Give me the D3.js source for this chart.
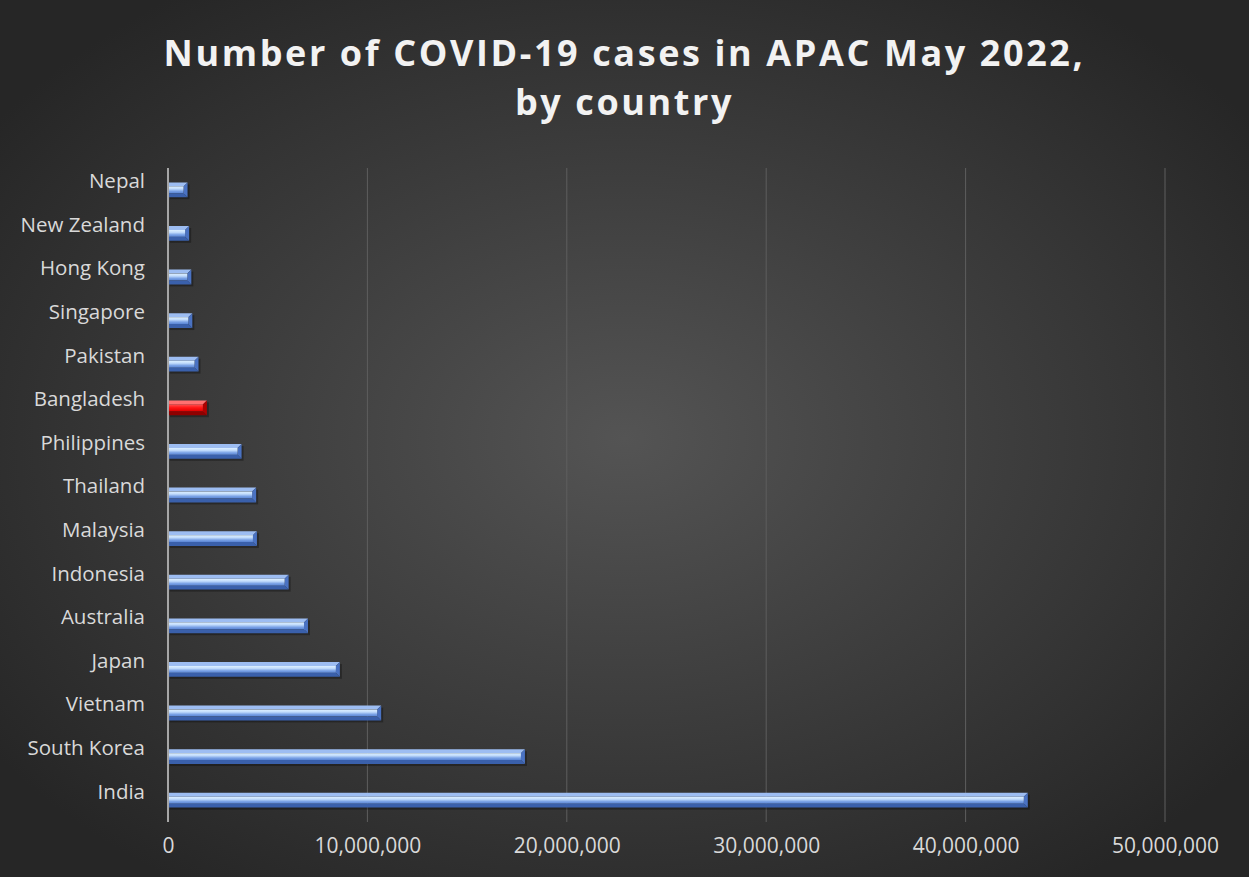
<!DOCTYPE html>
<html>
<head>
<meta charset="utf-8">
<script src="https://cdn.jsdelivr.net/npm/d3@7"></script>
<style>
  html, body { margin: 0; padding: 0; background: #2a2a2a; }
  svg { display: block; }
</style>
</head>
<body>
<svg id="chart"></svg>
<script>
const countries = ['Nepal', 'New Zealand', 'Hong Kong', 'Singapore', 'Pakistan', 'Bangladesh',
    'Philippines', 'Thailand', 'Malaysia', 'Indonesia', 'Australia', 'Japan', 'Vietnam',
    'South Korea', 'India'];
const cases = [980000, 1060000, 1170000, 1220000, 1530000, 1950000,
    3690000, 4420000, 4460000, 6050000, 7020000, 8620000, 10690000,
    17900000, 43120000];
const highlight = ['Bangladesh'];
const xTicks = [0, 10000000, 20000000, 30000000, 40000000, 50000000];
const titleLines = ['Number of COVID-19 cases in APAC May 2022,', 'by country'];

const width = 1249;
const height = 877;
const margin = { top: 168, right: 84, bottom: 55, left: 168 };

const svg = d3.select('#chart').attr('width', width).attr('height', height);
const defs = svg.append('defs');

// background
const bg = defs.append('radialGradient').attr('id', 'bg')
    .attr('cx', '50%').attr('cy', '50%').attr('r', '62%');
bg.append('stop').attr('offset', '0%').attr('stop-color', '#545454');
bg.append('stop').attr('offset', '100%').attr('stop-color', '#262626');
svg.append('rect').attr('width', width).attr('height', height).attr('fill', 'url(#bg)');

// bar face gradients
function faceGradient(id, stops) {
    const g = defs.append('linearGradient').attr('id', id)
        .attr('x1', 0).attr('y1', 0).attr('x2', 0).attr('y2', 1);
    stops.forEach(([o, c]) => g.append('stop').attr('offset', o).attr('stop-color', c));
}
faceGradient('blueFace', [['0%', '#dcefff'], ['35%', '#c2dcfc'], ['70%', '#7aa2e6'], ['100%', '#5a85d4']]);
faceGradient('redFace', [['0%', '#ff5050'], ['50%', '#ff1414'], ['100%', '#e00000']]);

const palette = {
    blue: { top: '#9dbdf2', face: 'url(#blueFace)', right: '#4a72c2', bottom: '#3a60ab' },
    red: { top: '#ff7070', face: 'url(#redFace)', right: '#b00000', bottom: '#8f0000' }
};

const x = d3.scaleLinear()
    .domain([0, 50000000])
    .range([margin.left, width - margin.right]);

const y = d3.scaleBand()
    .domain(countries)
    .range([margin.top, height - margin.bottom])
    .paddingInner(0.66)
    .paddingOuter(0.33);

// title
svg.append('g')
    .selectAll('text')
    .data(titleLines)
    .enter()
    .append('text')
    .attr('x', width / 2)
    .attr('y', (d, i) => 66 + i * 49)
    .attr('text-anchor', 'middle')
    .attr('font-family', 'Open Sans, Lato, sans-serif')
    .attr('font-weight', 'bold')
    .attr('font-size', '36px')
    .attr('letter-spacing', '2.6px')
    .attr('fill', '#f2f2f2')
    .text((d) => d);

// gridlines
svg.append('g')
    .selectAll('line')
    .data(xTicks.slice(1))
    .enter()
    .append('line')
    .attr('x1', (d) => x(d))
    .attr('x2', (d) => x(d))
    .attr('y1', margin.top)
    .attr('y2', height - margin.bottom)
    .attr('stroke', '#5e5e5e')
    .attr('stroke-width', 1);

// x axis labels
svg.append('g')
    .attr('transform', `translate(0, ${height - margin.bottom})`)
    .call(d3.axisBottom(x).tickValues(xTicks).tickFormat(d3.format(',')).tickSize(0).tickPadding(16))
    .call((g) => g.select('.domain').remove())
    .call((g) => g.selectAll('.tick text')
        .attr('fill', '#d9d9d9')
        .attr('font-size', '21px')
        .attr('font-family', 'Open Sans, Lato, sans-serif'));

// y axis labels
svg.append('g')
    .attr('transform', `translate(${margin.left}, 0)`)
    .call(d3.axisLeft(y).tickSize(0).tickPadding(23))
    .call((g) => g.select('.domain').remove())
    .call((g) => g.selectAll('.tick text')
        .attr('dy', '-0.08em')
        .attr('fill', '#d9d9d9')
        .attr('font-size', '20.5px')
        .attr('font-family', 'Open Sans, Lato, sans-serif'));

// bevelled bars
const bevel = 4;
const bars = svg.append('g')
    .selectAll('g')
    .data(countries.map((c, i) => ({ country: c, value: cases[i] })))
    .enter()
    .append('g')
    .attr('transform', (d) => `translate(0, ${y(d.country)})`);

bars.each(function (d) {
    const g = d3.select(this);
    const p = highlight.includes(d.country) ? palette.red : palette.blue;
    const x0 = x(0);
    const x1 = x(d.value);
    const h = y.bandwidth();
    g.append('rect')
        .attr('x', x0 + 2).attr('y', 2)
        .attr('width', x1 - x0).attr('height', h)
        .attr('fill', 'rgba(0,0,0,0.3)');
    g.append('polygon')
        .attr('points', [[x0, 0], [x1, 0], [x1 - bevel, bevel], [x0, bevel]].join(' '))
        .attr('fill', p.top);
    g.append('polygon')
        .attr('points', [[x0, h], [x1, h], [x1 - bevel, h - bevel], [x0, h - bevel]].join(' '))
        .attr('fill', p.bottom);
    g.append('polygon')
        .attr('points', [[x1, 0], [x1, h], [x1 - bevel, h - bevel], [x1 - bevel, bevel]].join(' '))
        .attr('fill', p.right);
    g.append('rect')
        .attr('x', x0).attr('y', bevel)
        .attr('width', Math.max(0, x1 - x0 - bevel)).attr('height', h - 2 * bevel)
        .attr('fill', p.face);
});

// vertical axis line
svg.append('line')
    .attr('x1', x(0)).attr('x2', x(0))
    .attr('y1', margin.top).attr('y2', height - margin.bottom)
    .attr('stroke', '#a6a6a6')
    .attr('stroke-width', 2);
</script>
</body>
</html>
